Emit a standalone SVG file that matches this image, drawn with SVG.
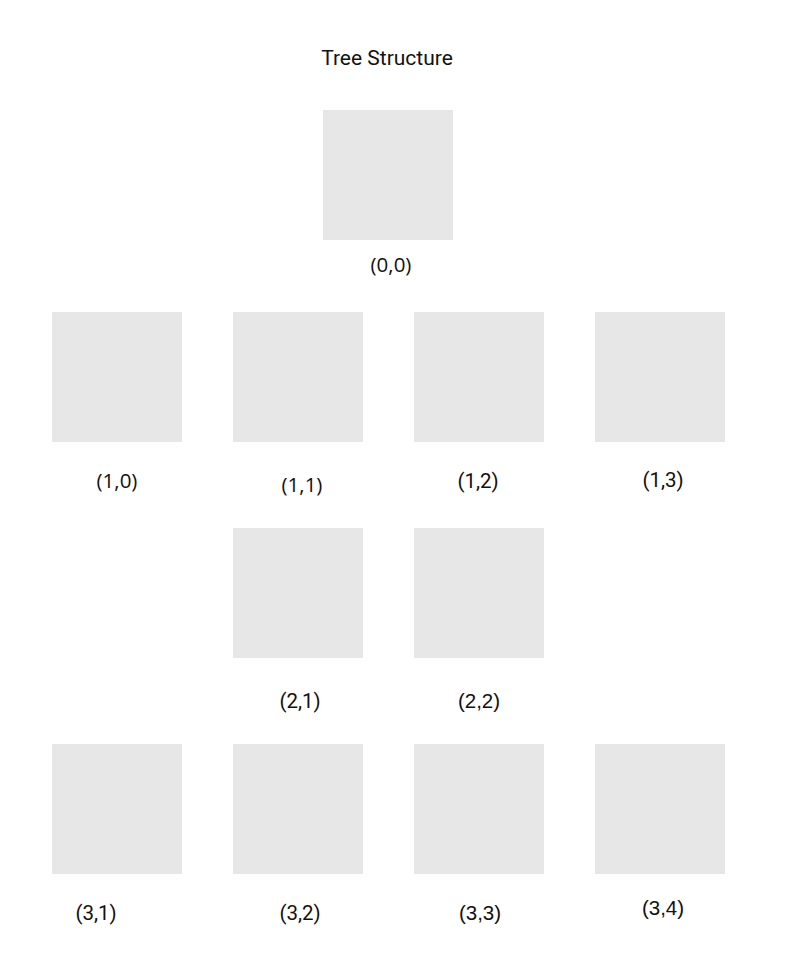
<svg xmlns="http://www.w3.org/2000/svg" width="800" height="968" viewBox="0 0 800 968">
<style>
.box{fill:#e7e7e7}
text{font-size:20.5px;fill:#111;text-anchor:middle}
.r{font-family:Roboto,sans-serif}
.o{font-family:"Open Sans",sans-serif}
.a{font-family:"Liberation Sans",Arial,sans-serif}
</style>
<rect width="800" height="968" fill="#fff"/>
<text class="r" x="387" y="65" style="font-size:21px">Tree Structure</text>
<g id="connectors"></g>
<g id="n00"><rect class="box" x="323" y="110" width="130" height="130"/><text class="o" x="391" y="272">(0,0)</text></g>
<g id="n10"><rect class="box" x="52" y="312" width="130" height="130"/><text class="o" x="117" y="488">(1,0)</text></g>
<g id="n11"><rect class="box" x="233" y="312" width="130" height="130"/><text class="o" x="302" y="492">(1,1)</text></g>
<g id="n12"><rect class="box" x="414" y="312" width="130" height="130"/><text class="r" x="478" y="488">(1,2)</text></g>
<g id="n13"><rect class="box" x="595" y="312" width="130" height="130"/><text class="r" x="663" y="487">(1,3)</text></g>
<g id="n21"><rect class="box" x="233" y="528" width="130" height="130"/><text class="r" x="300" y="708">(2,1)</text></g>
<g id="n22"><rect class="box" x="414" y="528" width="130" height="130"/><text class="a" x="479" y="708">(2,2)</text></g>
<g id="n31"><rect class="box" x="52" y="744" width="130" height="130"/><text class="r" x="96" y="920">(3,1)</text></g>
<g id="n32"><rect class="box" x="233" y="744" width="130" height="130"/><text class="r" x="300" y="920">(3,2)</text></g>
<g id="n33"><rect class="box" x="414" y="744" width="130" height="130"/><text class="a" x="480" y="920">(3,3)</text></g>
<g id="n34"><rect class="box" x="595" y="744" width="130" height="130"/><text class="a" x="663" y="915">(3,4)</text></g>
</svg>
